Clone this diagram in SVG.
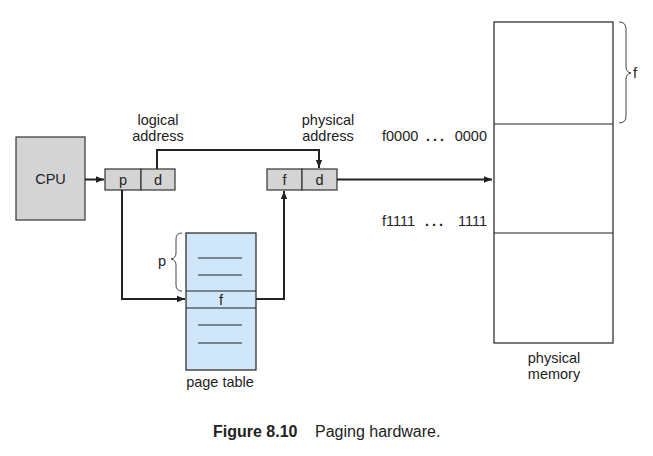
<svg xmlns="http://www.w3.org/2000/svg" width="653" height="456" viewBox="0 0 653 456">
<defs>
<marker id="ah" viewBox="0 0 10 10" refX="10" refY="5" markerWidth="8" markerHeight="8" markerUnits="userSpaceOnUse" orient="auto">
<path d="M0,1 L10,5 L0,9 Z" fill="#222"/>
</marker>
<style>
text{font-family:"Liberation Sans",Arial,sans-serif;font-size:14.5px;fill:#222}
.c{text-anchor:middle}
.r{text-anchor:end}
.dots{font-weight:bold;text-anchor:middle}
.cap{font-size:16px}
.gray{fill:#d4d4d4;stroke:#333;stroke-width:1.2}
.blue{fill:#cfe7f8;stroke:#222;stroke-width:1.2}
.mem{fill:#fff;stroke:#222;stroke-width:1.2}
.ln{fill:none;stroke:#222;stroke-width:1.2}
.conn{fill:none;stroke:#222;stroke-width:2}
.brace{fill:none;stroke:#444;stroke-width:1}
</style>
</defs>
<rect width="653" height="456" fill="#fff"/>

<g id="cpu">
<rect class="gray" x="16" y="137" width="69" height="83"/>
<text class="c" x="50.5" y="184">CPU</text>
</g>

<g id="logical-address">
<rect class="gray" x="105" y="169" width="36" height="21"/>
<rect class="gray" x="141" y="169" width="34" height="21"/>
<text class="c" x="123" y="185">p</text>
<text class="c" x="158" y="185">d</text>
<text class="c" x="158" y="125">logical</text>
<text class="c" x="158" y="141">address</text>
</g>

<g id="physical-address">
<rect class="gray" x="267" y="169" width="35" height="21"/>
<rect class="gray" x="302" y="169" width="35" height="21"/>
<text class="c" x="284.5" y="185">f</text>
<text class="c" x="319.5" y="185">d</text>
<text class="c" x="328" y="125">physical</text>
<text class="c" x="328" y="141">address</text>
</g>

<g id="page-table">
<rect class="blue" x="186" y="233" width="70" height="137"/>
<line class="ln" x1="186" y1="291" x2="256" y2="291"/>
<line class="ln" x1="186" y1="308" x2="256" y2="308"/>
<line class="ln" x1="198" y1="258" x2="242" y2="258"/>
<line class="ln" x1="198" y1="275" x2="242" y2="275"/>
<line class="ln" x1="198" y1="325" x2="242" y2="325"/>
<line class="ln" x1="198" y1="343" x2="242" y2="343"/>
<text class="c" x="221" y="305">f</text>
<path class="brace" d="M182,233 Q176,233 176,239 L176,253 Q176,258 171,259 Q176,260 176,265 L176,285 Q176,291 182,291"/>
<text class="c" x="162" y="266">p</text>
<text class="c" x="220" y="387">page table</text>
</g>

<g id="physical-memory">
<rect class="mem" x="494" y="22" width="119" height="321"/>
<line class="ln" x1="494" y1="124" x2="613" y2="124"/>
<line class="ln" x1="494" y1="233" x2="613" y2="233"/>
<path class="brace" d="M619,22 Q626,22 626,29 L626,67 Q626,72 631,73 Q626,74 626,79 L626,116 Q626,123 619,123"/>
<text x="633" y="78">f</text>
<text x="382" y="141">f0000</text>
<text class="dots" x="428" y="141">.</text>
<text class="dots" x="435" y="141">.</text>
<text class="dots" x="442" y="141">.</text>
<text class="r" x="487" y="141">0000</text>
<text x="382" y="226">f1111</text>
<text class="dots" x="427" y="226">.</text>
<text class="dots" x="434" y="226">.</text>
<text class="dots" x="441" y="226">.</text>
<text class="r" x="487" y="226">1111</text>
<text class="c" x="554" y="363">physical</text>
<text class="c" x="554" y="379">memory</text>
</g>

<g id="connectors">
<line class="conn" x1="85" y1="179.5" x2="104" y2="179.5" marker-end="url(#ah)"/>
<polyline class="conn" points="157,169 157,150 319,150 319,168" marker-end="url(#ah)"/>
<polyline class="conn" points="122,190 122,299 185,299" marker-end="url(#ah)"/>
<polyline class="conn" points="256,299 284,299 284,191" marker-end="url(#ah)"/>
<line class="conn" x1="337" y1="179.5" x2="492" y2="179.5" marker-end="url(#ah)"/>
</g>

<g id="caption">
<text class="cap" x="213" y="437" font-weight="bold">Figure 8.10</text>
<text class="cap" x="315" y="437">Paging hardware.</text>
</g>
</svg>
